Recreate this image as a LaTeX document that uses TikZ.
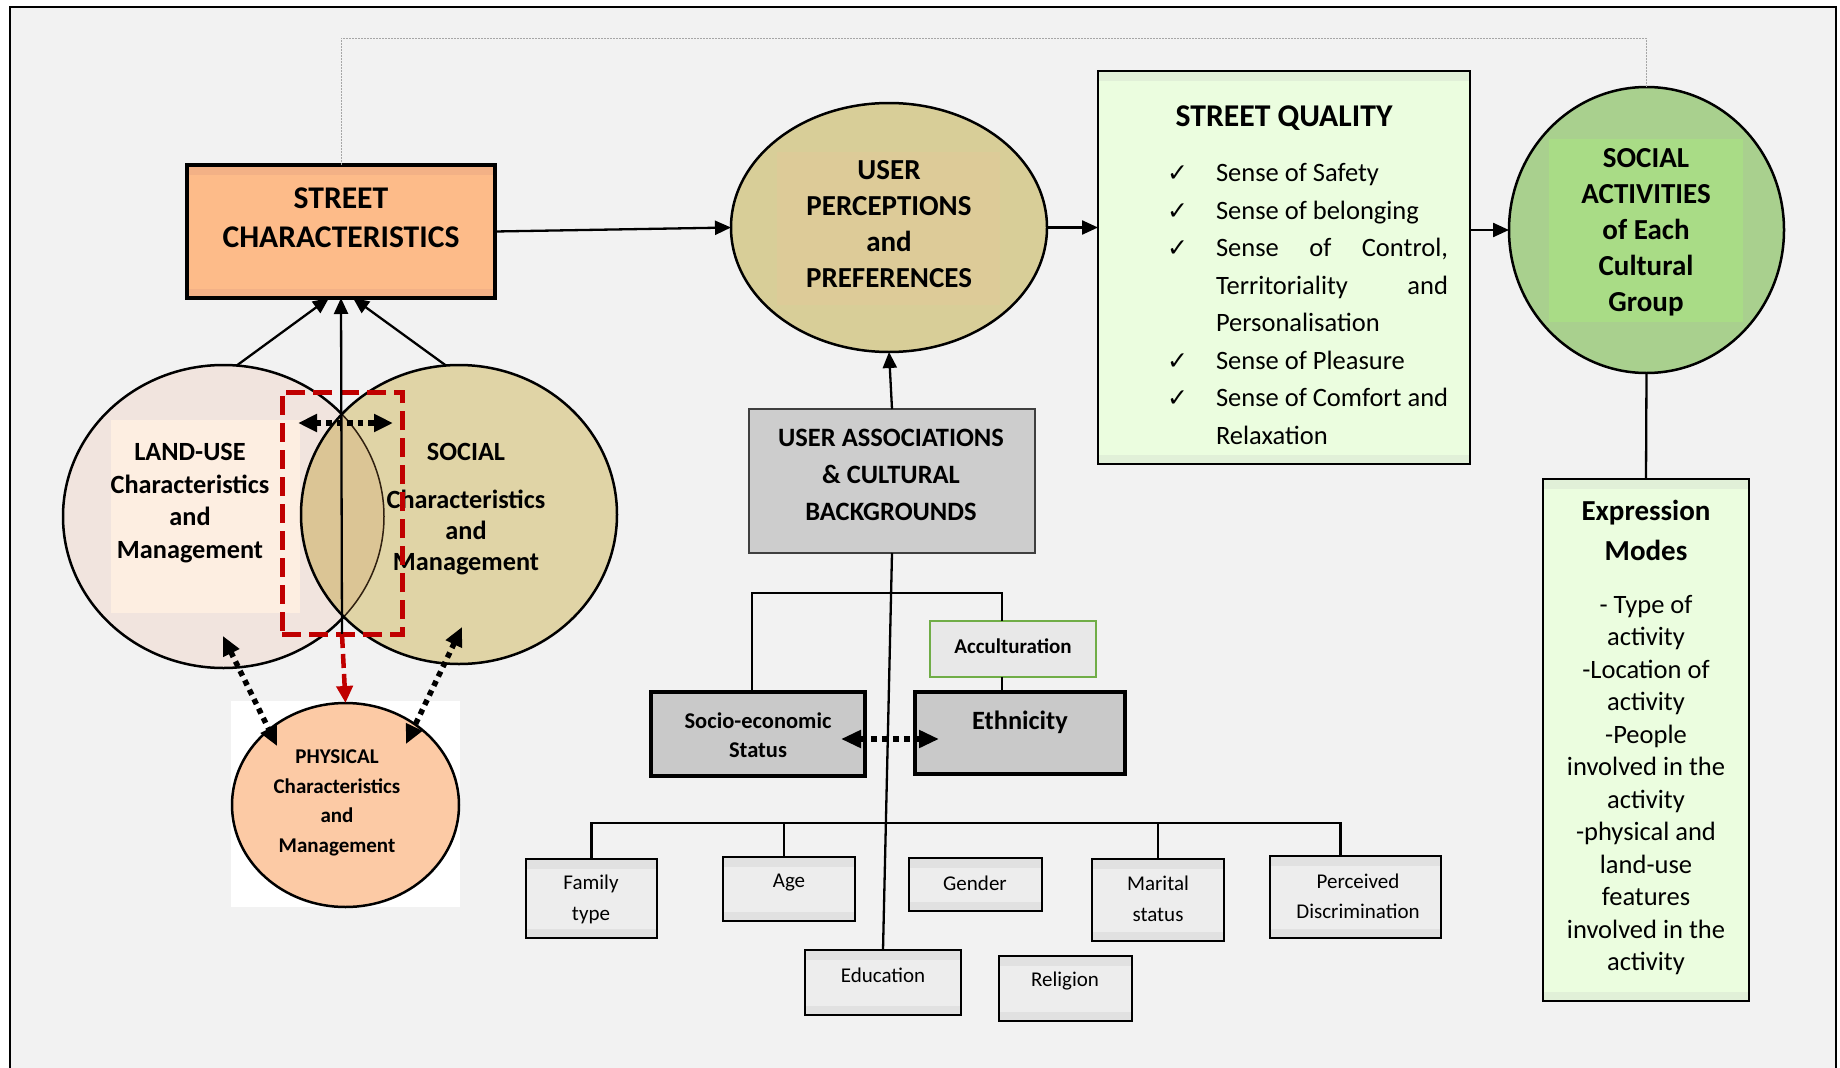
\documentclass[tikz,border=0pt]{standalone}
\usepackage{fontspec}
\setmainfont{Carlito}
\newfontfamily\symf{DejaVu Sans}
\usetikzlibrary{arrows.meta,shapes.geometric}

\definecolor{bg}{HTML}{F2F2F2}
\definecolor{scfill}{HTML}{FDBB89}
\definecolor{scband}{HTML}{F3B186}
\definecolor{upfill}{HTML}{D8CE98}
\definecolor{upin}{HTML}{DDCB98}
\definecolor{sqfill}{HTML}{EBFDDF}
\definecolor{sqband}{HTML}{E1F0D8}
\definecolor{safill}{HTML}{A9D08E}
\definecolor{sain}{HTML}{A9DC86}
\definecolor{uafill}{HTML}{CDCDCD}
\definecolor{uaedge}{HTML}{3F3F3F}
\definecolor{luf}{HTML}{F1E4DE}
\definecolor{luin}{HTML}{FDEEE1}
\definecolor{sof}{HTML}{E0D4A6}
\definecolor{ovl}{HTML}{DBC595}
\definecolor{phf}{HTML}{FCCAA5}
\definecolor{redd}{HTML}{C00000}
\definecolor{acg}{HTML}{70AD47}
\definecolor{grayf}{HTML}{E8E8E8}
\definecolor{darkf}{HTML}{C9C9C9}
\definecolor{smf}{HTML}{EDEDED}
\definecolor{smband}{HTML}{E1E1E1}

\newcommand\chk{{\symf\fontsize{25}{25}\selectfont ✓}}

\begin{document}
\begin{tikzpicture}[x=1pt,y=-1pt,
  every node/.style={inner sep=0pt, outer sep=0pt},
  banded/.style={path picture={
      \fill[#1] (path picture bounding box.north west) rectangle ([yshift=-10pt]path picture bounding box.north east);
      \fill[#1] (path picture bounding box.south west) rectangle ([yshift=9pt]path picture bounding box.south east);}},
  boxshape/.style={rectangle, draw},
  oval/.style={ellipse, draw, line width=2.5pt},
  smbox/.style={rectangle, draw, line width=2pt, fill=smf, banded=smband},
  smtext/.style={font=\fontsize{21}{31}\selectfont, align=center},
  ln/.style={line width=2.3pt},
  arr/.style={line width=2.3pt, -{Triangle[length=16pt,width=14pt]}},
  dots/.style={line width=5.5pt, dash pattern=on 5.5pt off 5pt,
    {Triangle[length=19pt,width=17pt]}-{Triangle[length=19pt,width=17pt]}},
  qitem/.style={anchor=base west, font=\fontsize{26.5}{37.5}\selectfont}
]
\useasboundingbox (0,0) rectangle (1840,1068);
\fill[white] (0,0) rectangle (1840,1068);
\filldraw[fill=bg, draw=black, line width=2pt] (10,7) rectangle (1836,1100);

% ---------- main chain ----------
\node[boxshape, line width=3.5pt, fill=scfill, banded=scband,
      minimum width=308pt, minimum height=133pt] (sc) at (341,231.5) {};
\node[font=\bfseries\fontsize{31.6}{39}\selectfont, align=center] (sct) at (341,217.5)
  {STREET\\CHARACTERISTICS};

\node[oval, fill=upfill, minimum width=316pt, minimum height=249pt] (up) at (889,227.5) {};
\fill[upin] (777,152) rectangle (1000,305);
\node[font=\bfseries\fontsize{29}{36}\selectfont, align=center] (upt) at (889,224.5)
  {USER\\PERCEPTIONS\\and\\PREFERENCES};

\node[boxshape, line width=2.5pt, fill=sqfill, banded=sqband,
      minimum width=372pt, minimum height=393pt] (sq) at (1284,267.5) {};
\node[font=\bfseries\fontsize{31.7}{38}\selectfont] (sqt) at (1284,118) {STREET QUALITY};
\node[qitem] (q1) at (1167,181) {\makebox[49pt][l]{\chk}Sense of Safety};
\node[qitem] (q2) at (1167,219) {\makebox[49pt][l]{\chk}Sense of belonging};
\node[qitem] (q3) at (1167,256) {\makebox[49pt][l]{\chk}\makebox[232pt][s]{Sense of Control,}};
\node[qitem] (q4) at (1167,294) {\hspace*{49pt}\makebox[232pt][s]{Territoriality and}};
\node[qitem] (q5) at (1167,331) {\hspace*{49pt}Personalisation};
\node[qitem] (q6) at (1167,369) {\makebox[49pt][l]{\chk}Sense of Pleasure};
\node[qitem] (q7) at (1167,406) {\makebox[49pt][l]{\chk}Sense of Comfort and};
\node[qitem] (q8) at (1167,444) {\hspace*{49pt}Relaxation};

\node[oval, fill=safill, minimum width=275pt, minimum height=286pt] (sa) at (1646.5,230) {};
\fill[sain] (1549,139) rectangle (1743,322);
\node[font=\bfseries\fontsize{29}{36}\selectfont, align=center] (sat) at (1646,232)
  {SOCIAL\\ACTIVITIES\\of Each\\Cultural\\Group};

\node[boxshape, line width=2pt, fill=sqfill, banded=sqband,
      minimum width=206pt, minimum height=522pt] (em) at (1646,740) {};
\node[font=\bfseries\fontsize{29}{40}\selectfont, align=center] (emt) at (1646,530)
  {Expression\\Modes};
\node[font=\fontsize{26.5}{32.5}\selectfont, align=center] (emb) at (1646,785)
  {- Type of\\activity\\-Location of\\activity\\-People\\involved in the\\activity\\-physical and\\land-use\\features\\involved in the\\activity};

\node[boxshape, draw=uaedge, line width=2pt, fill=uafill,
      minimum width=286pt, minimum height=144pt] (ua) at (892,481) {};
\node[font=\bfseries\fontsize{26.5}{37}\selectfont, align=center] (uat) at (891,475)
  {USER ASSOCIATIONS\\\& CULTURAL\\BACKGROUNDS};

% connectors of the main chain
\draw[arr] (sc.east) -- (up.west);
\draw[arr] (up.east) -- (up.east -| sq.west);
\draw[arr] (sq.east |- sa.west) -- (sa.west);
\draw[arr] (ua.north) -- (up.south);
\draw[ln] (sa.south) -- (em.north);
\coordinate (gtop) at (0,38);
\draw[gray!70, line width=1pt, dash pattern=on 2pt off 1pt]
  (sc.north) |- (sa.north |- gtop) -- (sa.north);

% ---------- land-use / social / physical ----------
\node[oval, fill=luf, minimum width=321pt, minimum height=303pt] (lu) at (223.5,516.5) {};
\fill[luin] (111,420) rectangle (300,613);
\node[ellipse, fill=sof, minimum width=316pt, minimum height=299pt] (so) at (459,514.5) {};
\begin{scope}
  \clip (so.center) ellipse [x radius=158, y radius=149.5];
  \fill[ovl] (lu.center) ellipse [x radius=160.5, y radius=151.5];
  \draw[line width=1.5pt, black!75!brown] (lu.center) ellipse [x radius=160.5, y radius=151.5];
\end{scope}
\draw[line width=2.5pt] (so.center) ellipse [x radius=158, y radius=149.5];

\node[font=\bfseries\fontsize{26.3}{32.7}\selectfont, align=center] (lut) at (190,503)
  {LAND-USE\\Characteristics\\and\\Management};
\node[font=\bfseries\fontsize{26.3}{31}\selectfont, align=center] (sot) at (466,509)
  {SOCIAL\\[17pt]Characteristics\\and\\Management};

\fill[white] (231,701) rectangle (460,907);
\node[oval, fill=phf, minimum width=227pt, minimum height=204pt] (ph) at (345.5,805) {};
\node[font=\bfseries\fontsize{21}{29.7}\selectfont, align=center] (pht) at (337,803)
  {PHYSICAL\\Characteristics\\and\\Management};

\node[rectangle, draw=redd, line width=5pt, dash pattern=on 19pt off 8pt,
      minimum width=120pt, minimum height=242pt] (rr) at (342,513) {};

\draw[arr] (lu.85) -- ([xshift=-12pt]sc.south);
\draw[arr] (so.95) -- ([xshift=12pt]sc.south);
\draw[arr] (rr.south) -- (sc.south);
\draw[redd, line width=4.5pt, dash pattern=on 14pt off 6pt,
      -{Triangle[length=17pt,width=16pt]}] (rr.south) -- (ph.north);

\coordinate (d1) at (298,423);
\coordinate (d2) at (393,423);
\draw[dots] (d1) -- (d2);
\coordinate (e1) at (223,636);
\coordinate (e2) at (277,746);
\draw[dots] (e1) -- (e2);
\coordinate (f1) at (462,627);
\coordinate (f2) at (406,744);
\draw[dots] (f1) -- (f2);

% ---------- cultural background tree ----------
\node[boxshape, line width=4pt, fill=darkf, minimum width=214pt, minimum height=84pt] (se) at (758,734) {};
\node[font=\bfseries\fontsize{22.5}{29}\selectfont, align=center] (set) at (758,735.5)
  {Socio-economic\\Status};
\node[boxshape, line width=4pt, fill=darkf, minimum width=210pt, minimum height=82pt] (et) at (1020,733) {};
\node[font=\bfseries\fontsize{26.4}{32}\selectfont] (ett) at (1020,722) {Ethnicity};
\node[boxshape, draw=acg, line width=2pt, fill=grayf, minimum width=166pt, minimum height=56pt] (ac) at (1013,649) {};
\node[font=\bfseries\fontsize{21}{26}\selectfont] (act) at (1013,646) {Acculturation};

\coordinate (bk) at (0,593);
\draw[ln] ([xshift=-6pt]se.north) |- ([xshift=-11pt]ac.north |- bk) -- ([xshift=-11pt]ac.north);
\draw[ln] ([xshift=-11pt]ac.south) -- ([xshift=-11pt]ac.south |- et.north);
\coordinate (s1) at (841,739);
\coordinate (s2) at (939,739);
\draw[line width=6pt, dash pattern=on 6pt off 5pt,
      {Triangle[length=20pt,width=17pt]}-{Triangle[length=20pt,width=17pt]}] (s1) -- (s2);

\node[smbox, minimum width=131pt, minimum height=79pt] (ft) at (591.5,898.5) {};
\node[smtext] (ftt) at (591,899) {Family\\type};
\node[smbox, minimum width=132pt, minimum height=64pt] (ag) at (789,889) {};
\node[smtext] (agt) at (789,883) {Age};
\node[smbox, minimum width=133pt, minimum height=53pt] (ge) at (975.5,884.5) {};
\node[smtext] (get) at (975,883) {Gender};
\node[smbox, minimum width=132pt, minimum height=82pt] (ma) at (1158,900) {};
\node[smtext] (mat) at (1158,898.5) {Marital\\status};
\node[smbox, minimum width=171pt, minimum height=82pt] (pd) at (1355.5,897) {};
\node[smtext, font=\fontsize{21}{30}\selectfont] (pdt) at (1358,896) {Perceived\\Discrimination};
\node[smbox, minimum width=156pt, minimum height=65pt] (ed) at (883,982.5) {};
\node[smtext] (edt) at (883,975) {Education};
\node[smbox, minimum width=133pt, minimum height=65pt] (re) at (1065.5,988.5) {};
\node[smtext] (ret) at (1065,981) {Religion};

\coordinate (bt) at (0,823);
\draw[ln] (ft.north) |- ([xshift=-15pt]pd.north |- bt) -- ([xshift=-15pt]pd.north);
\draw[ln] ([xshift=-5pt]ag.north) -- ([xshift=-5pt]ag.north |- bt);
\draw[ln] (ma.north) -- (ma.north |- bt);
\draw[ln] (ua.south) -- (ed.north);
\end{tikzpicture}
\end{document}
